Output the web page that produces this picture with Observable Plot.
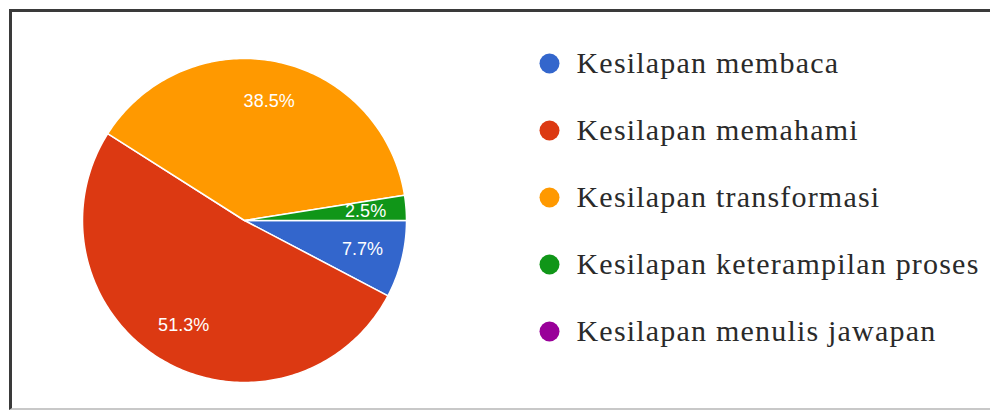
<!DOCTYPE html>
<html>
<head>
<meta charset="utf-8">
<script src="https://cdn.jsdelivr.net/npm/d3@7"></script>
<script src="https://cdn.jsdelivr.net/npm/@observablehq/plot@0.6"></script>
<style>
  html, body { margin: 0; padding: 0; background: #fff; }
  #wrap { position: relative; width: 990px; height: 410px; overflow: hidden; background: #fff; }
  #frame { position: absolute; left: 9px; top: 9px; width: 1000px; height: 396px;
           border-top: 3px solid #3a3a3a; border-left: 3px solid #3a3a3a; border-bottom: 2px solid #c8c8c8; }
  #pie { position: absolute; left: 0; top: 0; }
  #legend { position: absolute; left: 520px; top: 0; }
</style>
</head>
<body>
<div id="wrap">
  <div id="frame"></div>
  <div id="pie"></div>
  <div id="legend"></div>
</div>
<script>
const categories = [
  "Kesilapan membaca",
  "Kesilapan memahami",
  "Kesilapan transformasi",
  "Kesilapan keterampilan proses",
  "Kesilapan menulis jawapan"
];
const values = [7.7, 51.3, 38.5, 2.5, 0];
const valueLabels = ["7.7%", "51.3%", "38.5%", "2.5%", ""];
const colors = ["#3366cc", "#dc3912", "#ff9900", "#109618", "#990099"];

// layout
const pieW = 500, pieH = 410, cx = 244, cy = 220, R = 162;
const labelR = 0.75;

const total = d3.sum(values);
const polyPoints = [];
const labelData = [];
let acc = 0;
categories.forEach((cat, i) => {
  const v = values[i];
  if (v <= 0) { return; }
  const a0 = acc / total * 2 * Math.PI;
  const a1 = (acc + v) / total * 2 * Math.PI;
  acc += v;
  const n = Math.max(2, Math.ceil((a1 - a0) / (2 * Math.PI) * 360));
  polyPoints.push({cat, x: 0, y: 0});
  for (let k = 0; k <= n; k++) {
    const a = a0 + (a1 - a0) * k / n;
    polyPoints.push({cat, x: Math.cos(a), y: -Math.sin(a)});
  }
  polyPoints.push({cat, x: 0, y: 0});
  const am = (a0 + a1) / 2;
  labelData.push({cat, label: valueLabels[i], x: labelR * Math.cos(am), y: -labelR * Math.sin(am)});
});

const pie = Plot.plot({
  width: pieW, height: pieH,
  margin: 0,
  x: {domain: [-cx / R, (pieW - cx) / R], range: [0, pieW], axis: null},
  y: {domain: [-(pieH - cy) / R, cy / R], range: [pieH, 0], axis: null},
  color: {domain: categories, range: colors},
  style: {background: "transparent"},
  marks: [
    Plot.line(polyPoints, {x: "x", y: "y", z: "cat", fill: "cat", stroke: "#ffffff", strokeWidth: 1.5, strokeLinejoin: "round"}),
    Plot.text(labelData, {x: "x", y: "y", text: "label", fill: "#ffffff", fontSize: 18,
      fontFamily: "'Liberation Sans', Arial, sans-serif"})
  ]
});
document.getElementById("pie").appendChild(pie);

const legend = Plot.plot({
  width: 470, height: 410,
  margin: 0,
  x: {domain: [0, 1], range: [29, 100], axis: null},
  y: {type: "point", domain: categories, range: [63, 331], padding: 0, axis: null},
  color: {domain: categories, range: colors},
  style: {background: "transparent", letterSpacing: "1.2px"},
  marks: [
    Plot.dot(categories, {x: () => 0, y: d => d, fill: d => d, r: 10}),
    Plot.text(categories, {x: () => 0, y: d => d, text: d => d, dx: 27, textAnchor: "start",
      fill: "#2a2a2a", fontSize: 30, fontFamily: "'Liberation Serif', 'Times New Roman', serif"})
  ]
});
document.getElementById("legend").appendChild(legend);
</script>
</body>
</html>
